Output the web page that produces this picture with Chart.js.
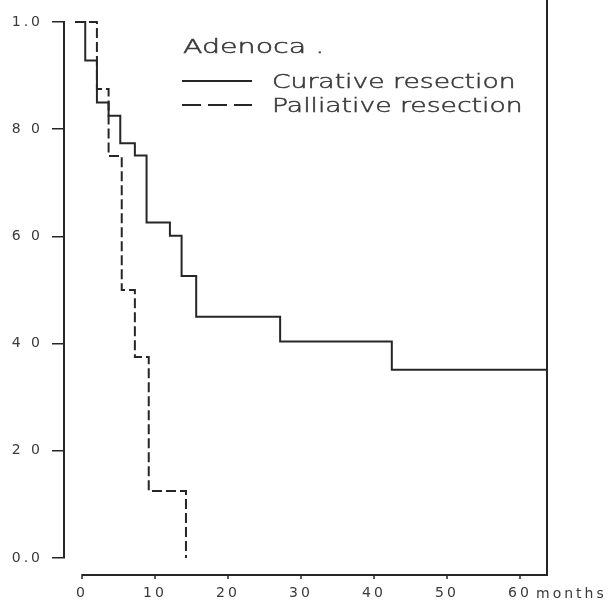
<!DOCTYPE html>
<html>
<head>
<meta charset="utf-8">
<title>Adenoca survival</title>
<script src="https://cdn.jsdelivr.net/npm/chart.js@4.4.1/dist/chart.umd.min.js"></script>
<style>
  html, body { margin: 0; padding: 0; background: #fff; }
  #chart { display: block; }
</style>
</head>
<body>
<canvas id="chart" width="613" height="601"></canvas>
<script>
// Survival (%) against months
const curativeMonths   = [0, 1.4, 3.0, 4.6, 6.2, 8.2, 9.8, 13.0, 14.6, 16.6, 28.1, 43.4, 64.7];
const curativeSurvival = [100, 92.8, 85.0, 82.5, 77.4, 75.1, 62.6, 60.1, 52.6, 45.0, 40.4, 35.1, 35.1];
const palliativeMonths   = [0, 3.0, 4.6, 6.4, 8.2, 10.1, 15.2];
const palliativeSurvival = [100, 87.5, 75.0, 50.0, 37.5, 12.5, 0];

const xTickValues = [0, 10, 20, 30, 40, 50, 60];
const xTickLabels = ['0', '10', '20', '30', '40', '50', '60'];
const yTickValues = [0, 20, 40, 60, 80, 100];
const yTickLabels = ['0.0', '2 0', '4 0', '6 0', '8 0', '1.0'];

const seriesNames = ['Curative resection', 'Palliative resection'];
const legendTitle = 'Adenoca .';
const xUnit = 'months';

const INK = '#262626';
const TEXT = '#3a3a3a';
const FONT = "'DejaVu Sans', sans-serif";

function toPoints(xs, ys) {
    return xs.map((x, i) => ({ x: x, y: ys[i] }));
}

// the lettering in the scan is a wide plotter face, so stretch it sideways
function wideText(ctx, text, x, y, stretch) {
    ctx.save();
    ctx.translate(x, y);
    ctx.scale(stretch, 1);
    ctx.fillText(text, 0, 0);
    ctx.strokeText(text, 0, 0);
    ctx.restore();
}

// axis line below the plot, right frame, unit label and the legend box
const axisDecor = {
    id: 'axisDecor',
    beforeDraw(chart) {
        const ctx = chart.ctx;
        ctx.save();
        ctx.fillStyle = '#fff';
        ctx.fillRect(0, 0, chart.width, chart.height);
        ctx.restore();
        ctx.letterSpacing = '3px';
    },
    afterDraw(chart) {
        const { ctx, chartArea } = chart;
        const xs = chart.scales.xAxis;
        const axisY = chartArea.bottom + 17;

        ctx.save();
        ctx.strokeStyle = INK;
        ctx.lineWidth = 2;
        ctx.beginPath();
        ctx.moveTo(xs.getPixelForValue(xTickValues[0]), axisY);
        ctx.lineTo(chartArea.right, axisY);
        ctx.lineTo(chartArea.right, 0);
        ctx.stroke();

        ctx.lineWidth = 1.5;
        ctx.beginPath();
        xTickValues.forEach(v => {
            const px = xs.getPixelForValue(v);
            ctx.moveTo(px, axisY - 1);
            ctx.lineTo(px, axisY + 4);
        });
        ctx.stroke();

        ctx.fillStyle = TEXT;
        ctx.textAlign = 'left';
        ctx.textBaseline = 'alphabetic';
        ctx.font = '14px ' + FONT;
        ctx.letterSpacing = '3px';
        ctx.fillText(xUnit, xs.getPixelForValue(xTickValues[xTickValues.length - 1]) + 16, 598);

        // legend
        ctx.letterSpacing = '0px';
        ctx.font = '200 19px ' + FONT;
        ctx.strokeStyle = TEXT;
        ctx.lineWidth = 0.5;
        wideText(ctx, legendTitle, 183, 53, 1.5);
        wideText(ctx, seriesNames[0], 272, 88, 1.4);
        wideText(ctx, seriesNames[1], 272, 112, 1.4);

        ctx.strokeStyle = INK;
        ctx.lineWidth = 2;
        ctx.beginPath();
        ctx.moveTo(182, 81);
        ctx.lineTo(252, 81);
        ctx.stroke();
        ctx.setLineDash([19, 7]);
        ctx.beginPath();
        ctx.moveTo(182, 105);
        ctx.lineTo(252, 105);
        ctx.stroke();
        ctx.restore();
    }
};

new Chart(document.getElementById('chart'), {
    type: 'line',
    data: {
        datasets: [{
            label: seriesNames[0],
            data: toPoints(curativeMonths, curativeSurvival),
            borderColor: INK,
            borderWidth: 2,
            stepped: true,
            pointRadius: 0,
            fill: false,
            clip: false,
            xAxisID: 'x',
            yAxisID: 'y'
        }, {
            label: seriesNames[1],
            data: toPoints(palliativeMonths, palliativeSurvival),
            borderColor: INK,
            borderWidth: 2,
            borderDash: [10, 4],
            stepped: true,
            pointRadius: 0,
            fill: false,
            clip: false,
            xAxisID: 'x',
            yAxisID: 'y'
        }]
    },
    options: {
        responsive: false,
        animation: false,
        events: [],
        layout: { padding: { top: 22, right: 66, left: 0, bottom: 0 } },
        plugins: {
            legend: { display: false },
            tooltip: { enabled: false }
        },
        scales: {
            // curves start one month left of the printed 0 tick in the scan
            x: {
                type: 'linear',
                display: false,
                min: -1.51,
                max: 64.66
            },
            xAxis: {
                type: 'linear',
                position: 'bottom',
                min: -2.47,
                max: 63.70,
                afterBuildTicks: (scale) => {
                    scale.ticks = xTickValues.map(v => ({ value: v }));
                },
                afterFit: (scale) => { scale.height = 43; },
                grid: { display: false, drawTicks: false },
                border: { display: false },
                ticks: {
                    padding: 27,
                    color: TEXT,
                    maxRotation: 0,
                    autoSkip: false,
                    font: { family: FONT, size: 14 },
                    callback: (v) => xTickLabels[xTickValues.indexOf(v)]
                }
            },
            y: {
                type: 'linear',
                min: 0,
                max: 100,
                afterBuildTicks: (scale) => {
                    scale.ticks = yTickValues.map(v => ({ value: v }));
                },
                afterFit: (scale) => { scale.width = 64; },
                grid: {
                    display: true,
                    drawOnChartArea: false,
                    drawTicks: true,
                    tickLength: 12,
                    color: INK,
                    lineWidth: 1.5
                },
                border: { display: true, color: INK, width: 2 },
                ticks: {
                    padding: 9,
                    color: TEXT,
                    font: { family: FONT, size: 14 },
                    callback: (v) => yTickLabels[yTickValues.indexOf(v)]
                }
            }
        }
    },
    plugins: [axisDecor]
});
</script>
</body>
</html>
